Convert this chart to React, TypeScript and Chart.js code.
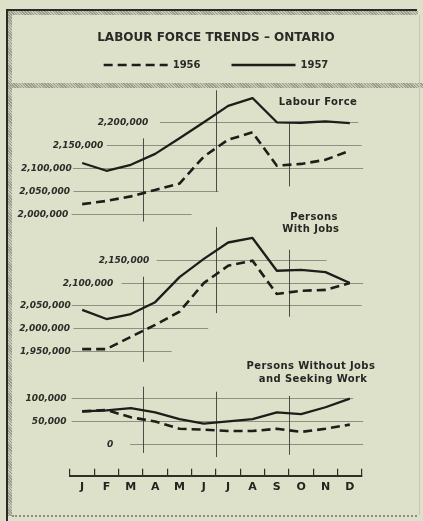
import React, { useEffect, useRef } from 'react';
import { Chart, registerables } from 'chart.js';

Chart.register(...registerables);

// ---------- data ----------
const TITLE = 'LABOUR FORCE TRENDS – ONTARIO';
const MONTHS = ['J', 'F', 'M', 'A', 'M', 'J', 'J', 'A', 'S', 'O', 'N', 'D'];
const SERIES_YEARS = ['1956', '1957'];

const LABOUR_1956 = [2021000, 2028000, 2038000, 2052000, 2066000, 2125000, 2162000, 2178000, 2105000, 2109000, 2118000, 2138000];
const LABOUR_1957 = [2111000, 2094000, 2107000, 2131000, 2165000, 2200000, 2236000, 2253000, 2200000, 2199000, 2202000, 2198000];
const JOBS_1956 = [1954000, 1954000, 1981000, 2007000, 2036000, 2099000, 2137000, 2148000, 2075000, 2082000, 2084000, 2099000];
const JOBS_1957 = [2040000, 2020000, 2031000, 2057000, 2112000, 2152000, 2188000, 2198000, 2126000, 2128000, 2123000, 2099000];
const NOJOBS_1956 = [71000, 74000, 58000, 49000, 33000, 31000, 28000, 28000, 33000, 26000, 33000, 42000];
const NOJOBS_1957 = [71000, 73000, 78000, 69000, 54000, 44000, 49000, 54000, 69000, 65000, 80000, 99000];

const LABOUR_TICKS = [2000000, 2050000, 2100000, 2150000, 2200000];
const JOBS_TICKS = [1950000, 2000000, 2050000, 2100000, 2150000];
const NOJOBS_TICKS = [0, 50000, 100000];

const LABOUR_TITLE = ['Labour Force'];
const JOBS_TITLE = ['Persons', 'With Jobs'];
const NOJOBS_TITLE = ['Persons Without Jobs', 'and Seeking Work'];

// ---------- styles ----------
const BG = '#dee1c9';
const INK = '#1d1d1a';
const GRID = '#8e9182';
const QUARTER = '#4b4c45';
const HATCH = 'repeating-linear-gradient(45deg, #9a9c8c 0px, #9a9c8c 1px, #c6c9b3 1px, #c6c9b3 2px)';

const DASHED = { borderDash: [9, 5], borderWidth: 2.6, borderColor: INK, backgroundColor: INK, pointRadius: 0, tension: 0, fill: false };
const SOLID = { borderWidth: 2.3, borderColor: INK, backgroundColor: INK, pointRadius: 0, tension: 0, fill: false, borderJoinStyle: 'round' as const };

// decorative grid layout (x in month-index units, y in axis values)
const PANELS = [
  {
    axis: 'yLabour', ticks: LABOUR_TICKS,
    extents: [[-0.57, -0.43, 4.5], [-0.5, -0.36, 5.6], [-0.43, -0.38, 11.55], [0.87, 1.01, 11.49], [2.72, 3.2, 11.35]],
    quarters: [[2.5, 1983000, 2165000], [5.5, 2048000, 2270000], [8.5, 2060000, 2198000]],
    titles: LABOUR_TITLE, titlePos: [[9.69, 2243000]],
  },
  {
    axis: 'yJobs', ticks: JOBS_TICKS,
    extents: [[-0.47, -0.43, 3.68], [-0.5, -0.36, 5.18], [-0.47, -0.43, 11.49], [1.28, 1.62, 11.55], [2.76, 3.06, 10.05]],
    quarters: [[2.5, 1926000, 2113000], [5.5, 2033000, 2222000], [8.5, 2025000, 2172000]],
    titles: JOBS_TITLE, titlePos: [[9.53, 2243000], [9.4, 2216000]],
  },
  {
    axis: 'yNoJobs', ticks: NOJOBS_TICKS,
    extents: [[1.28, 1.97, 11.55], [-0.64, -0.43, 11.55], [-0.64, -0.43, 11.14]],
    quarters: [[2.5, -20000, 125000], [5.5, -29000, 114000], [8.5, -24000, 105000]],
    titles: NOJOBS_TITLE, titlePos: [[9.4, 169000], [9.49, 140000]],
  },
];

const fmt = (v: number) => v.toLocaleString('en-US');

const decor = {
  id: 'decor',
  beforeInit(chart: any) {
    const legend = chart.legend;
    if (legend) {
      const fit = legend.fit;
      legend.fit = function () {
        fit.call(this);
        this.height = 59;
      };
    }
  },
  beforeDatasetsDraw(chart: any) {
    const ctx = chart.ctx;
    const xs = chart.scales.x;
    ctx.save();
    PANELS.forEach((p) => {
      const ys = chart.scales[p.axis];
      p.ticks.forEach((v, i) => {
        const [labelEnd, from, to] = p.extents[i];
        const py = Math.round(ys.getPixelForValue(v)) + 0.5;
        ctx.strokeStyle = GRID;
        ctx.lineWidth = 1;
        ctx.setLineDash([]);
        ctx.beginPath();
        ctx.moveTo(xs.getPixelForValue(from), py);
        ctx.lineTo(xs.getPixelForValue(to), py);
        ctx.stroke();
        ctx.font = 'italic bold 9px "DejaVu Sans"';
        ctx.fillStyle = '#2c2c29';
        ctx.textAlign = 'right';
        ctx.textBaseline = 'middle';
        ctx.fillText(fmt(v), xs.getPixelForValue(labelEnd), py);
      });
      p.quarters.forEach(([b, v0, v1]) => {
        const px = Math.round(xs.getPixelForValue(b)) + 0.5;
        ctx.strokeStyle = QUARTER;
        ctx.lineWidth = 1;
        ctx.beginPath();
        ctx.moveTo(px, ys.getPixelForValue(v0));
        ctx.lineTo(px, ys.getPixelForValue(v1));
        ctx.stroke();
      });
    });
    ctx.restore();
  },
  afterDatasetsDraw(chart: any) {
    const ctx = chart.ctx;
    const xs = chart.scales.x;
    ctx.save();
    ctx.font = 'bold 10px "DejaVu Sans"';
    (ctx as any).letterSpacing = '0.4px';
    ctx.fillStyle = '#262624';
    ctx.textAlign = 'center';
    ctx.textBaseline = 'middle';
    PANELS.forEach((p) => {
      const ys = chart.scales[p.axis];
      p.titles.forEach((t, i) => {
        const [ix, v] = p.titlePos[i];
        ctx.fillText(t, xs.getPixelForValue(ix), ys.getPixelForValue(v));
      });
    });
    ctx.restore();
  },
};

const hiddenY = (stackWeight: number, weight: number, min: number, max: number) => ({
  type: 'linear' as const,
  position: 'left' as const,
  stack: 'panels',
  stackWeight,
  weight,
  min,
  max,
  bounds: 'data' as const,
  display: true,
  grid: { display: false, drawTicks: false },
  border: { display: false },
  ticks: { display: false },
});

export default function App() {
  const ref = useRef<HTMLCanvasElement>(null);

  useEffect(() => {
    if (!ref.current) return;
    const chart = new Chart(ref.current, {
      type: 'line',
      data: {
        labels: MONTHS,
        datasets: [
          { label: SERIES_YEARS[0], data: LABOUR_1956, yAxisID: 'yLabour', ...DASHED },
          { label: SERIES_YEARS[1], data: LABOUR_1957, yAxisID: 'yLabour', ...SOLID },
          { label: SERIES_YEARS[0], data: JOBS_1956, yAxisID: 'yJobs', ...DASHED },
          { label: SERIES_YEARS[1], data: JOBS_1957, yAxisID: 'yJobs', ...SOLID },
          { label: SERIES_YEARS[0], data: NOJOBS_1956, yAxisID: 'yNoJobs', ...DASHED },
          { label: SERIES_YEARS[1], data: NOJOBS_1957, yAxisID: 'yNoJobs', ...SOLID },
        ],
      },
      options: {
        animation: false,
        responsive: false,
        devicePixelRatio: 1,
        layout: { padding: { left: 70, right: 61, top: 0, bottom: 15 } },
        plugins: {
          tooltip: { enabled: false },
          title: {
            display: true,
            text: TITLE,
            color: '#2a2a27',
            font: { family: 'DejaVu Sans', size: 12, weight: 'bold' },
            padding: { top: 31, bottom: -16.4 },
          },
          legend: {
            display: true,
            position: 'top',
            labels: {
              generateLabels: (c: any) =>
                (Chart.defaults.plugins.legend.labels.generateLabels as any)(c)
                  .filter((item: any) => item.datasetIndex < 2)
                  .map((item: any) => {
                    const ds = c.data.datasets[item.datasetIndex];
                    return { ...item, lineDash: ds.borderDash || [], lineWidth: ds.borderWidth, lineCap: 'butt' };
                  }),
              usePointStyle: true,
              pointStyle: 'line',
              pointStyleWidth: 64,
              padding: 31,
              color: '#2a2a27',
              font: { family: 'DejaVu Sans', size: 10, weight: 'bold' },
            },
          },
        },
        scales: {
          x: {
            type: 'category',
            offset: true,
            grid: { display: true, drawOnChartArea: false, drawTicks: true, tickLength: -7, color: '#2e2e2b', lineWidth: 1.2, offset: true },
            border: { display: true, color: '#2e2e2b', width: 2 },
            ticks: {
              color: '#232320',
              font: { family: 'DejaVu Sans', size: 11, weight: 'bold' },
              padding: 12,
              autoSkip: false,
              maxRotation: 0,
            },
          },
          yLabour: hiddenY(140, 3, 1969000, 2275000),
          yJobs: hiddenY(144, 2, 1904000, 2220000),
          yNoJobs: hiddenY(104, 1, -70000, 157500),
        },
      } as any,
      plugins: [decor],
    });
    return () => chart.destroy();
  }, []);

  const abs = (s: React.CSSProperties): React.CSSProperties => ({ position: 'absolute', ...s });

  return (
    <div style={{ position: 'absolute', left: 0, top: 0, width: 423, height: 521, background: BG, overflow: 'hidden' }}>
      <div style={abs({ left: 8, top: 11, width: 4, height: 505, background: HATCH })} />
      <div style={abs({ left: 8, top: 11, width: 410, height: 4, background: HATCH })} />
      <div style={abs({ left: 12, top: 83, width: 411, height: 5, background: HATCH })} />
      <div style={abs({ left: 6, top: 9, width: 2, height: 512, background: '#2a2a26' })} />
      <div style={abs({ left: 6, top: 9, width: 411, height: 2, background: '#2a2a26' })} />
      <div style={abs({ left: 12, top: 515, width: 405, height: 0, borderTop: '2px dotted #8c8e80' })} />
      <div style={abs({ left: 419, top: 15, width: 1, height: 500, background: '#c3c6b0' })} />
      <canvas ref={ref} width={423} height={521} style={{ position: 'absolute', left: 0, top: 0 }} />
    </div>
  );
}
